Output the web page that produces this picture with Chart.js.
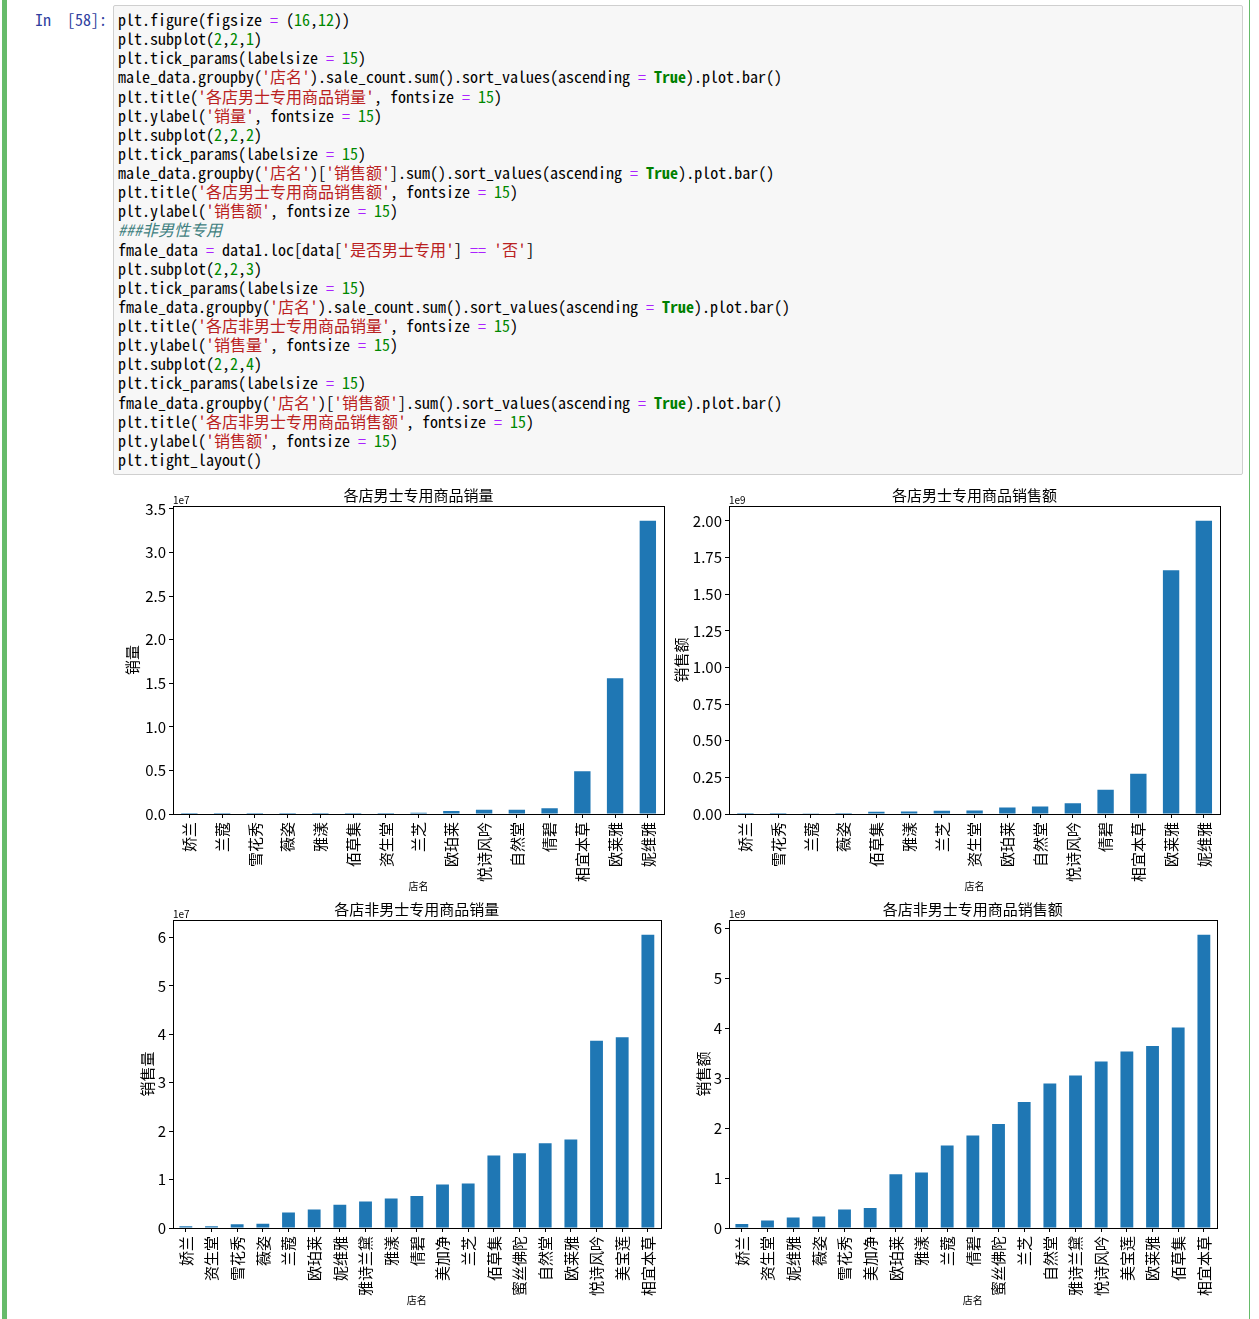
<!DOCTYPE html>
<html>
<head>
<meta charset="utf-8">
<script src="https://cdn.jsdelivr.net/npm/chart.js@4.4.1/dist/chart.umd.min.js"></script>
<style>
  body { margin: 0; background: #fff; width: 1259px; height: 1319px; position: relative; overflow: hidden; }
  .bar-left { position: absolute; left: 2px; top: 0; width: 5px; height: 1319px; background: #66bb6a; }
  .bar-right { position: absolute; left: 1249px; top: 0; width: 1px; height: 1319px; background: #66bb6a; }
  .prompt { position: absolute; left: 0; width: 107px; top: 6px; text-align: right; color: #303f9f;
    font: 16px "Noto Sans Mono CJK SC", "Liberation Mono", monospace; line-height: 19.13px; padding-top: 4px; white-space: pre; }
  .code { position: absolute; left: 113px; top: 5px; width: 1128px; height: 468px; background: #f7f7f7;
    border: 1px solid #cfcfcf; border-radius: 2px; }
  .code pre { margin: 0; padding: 4px 0 0 4px; font: 16px "Noto Sans Mono CJK SC", "Liberation Mono", monospace;
    line-height: 19.13px; color: #000; }
  .o { color: #aa22ff; }
  .n { color: #008800; }
  .s { color: #ba2121; }
  .k { color: #008000; font-weight: bold; }
  .c { color: #408080; font-style: italic; }
  canvas { position: absolute; }
</style>
</head>
<body>
<div class="bar-left"></div>
<div class="bar-right"></div>
<div class="prompt">In  [58]:</div>
<div class="code"><pre>plt.figure(figsize <span class="o">=</span> (<span class="n">16</span>,<span class="n">12</span>))
plt.subplot(<span class="n">2</span>,<span class="n">2</span>,<span class="n">1</span>)
plt.tick_params(labelsize <span class="o">=</span> <span class="n">15</span>)
male_data.groupby(<span class="s">'店名'</span>).sale_count.sum().sort_values(ascending <span class="o">=</span> <span class="k">True</span>).plot.bar()
plt.title(<span class="s">'各店男士专用商品销量'</span>, fontsize <span class="o">=</span> <span class="n">15</span>)
plt.ylabel(<span class="s">'销量'</span>, fontsize <span class="o">=</span> <span class="n">15</span>)
plt.subplot(<span class="n">2</span>,<span class="n">2</span>,<span class="n">2</span>)
plt.tick_params(labelsize <span class="o">=</span> <span class="n">15</span>)
male_data.groupby(<span class="s">'店名'</span>)[<span class="s">'销售额'</span>].sum().sort_values(ascending <span class="o">=</span> <span class="k">True</span>).plot.bar()
plt.title(<span class="s">'各店男士专用商品销售额'</span>, fontsize <span class="o">=</span> <span class="n">15</span>)
plt.ylabel(<span class="s">'销售额'</span>, fontsize <span class="o">=</span> <span class="n">15</span>)
<span class="c">###非男性专用</span>
fmale_data <span class="o">=</span> data1.loc[data[<span class="s">'是否男士专用'</span>] <span class="o">==</span> <span class="s">'否'</span>]
plt.subplot(<span class="n">2</span>,<span class="n">2</span>,<span class="n">3</span>)
plt.tick_params(labelsize <span class="o">=</span> <span class="n">15</span>)
fmale_data.groupby(<span class="s">'店名'</span>).sale_count.sum().sort_values(ascending <span class="o">=</span> <span class="k">True</span>).plot.bar()
plt.title(<span class="s">'各店非男士专用商品销量'</span>, fontsize <span class="o">=</span> <span class="n">15</span>)
plt.ylabel(<span class="s">'销售量'</span>, fontsize <span class="o">=</span> <span class="n">15</span>)
plt.subplot(<span class="n">2</span>,<span class="n">2</span>,<span class="n">4</span>)
plt.tick_params(labelsize <span class="o">=</span> <span class="n">15</span>)
fmale_data.groupby(<span class="s">'店名'</span>)[<span class="s">'销售额'</span>].sum().sort_values(ascending <span class="o">=</span> <span class="k">True</span>).plot.bar()
plt.title(<span class="s">'各店非男士专用商品销售额'</span>, fontsize <span class="o">=</span> <span class="n">15</span>)
plt.ylabel(<span class="s">'销售额'</span>, fontsize <span class="o">=</span> <span class="n">15</span>)
plt.tight_layout()</pre></div>

<canvas id="c1" width="557" height="410" style="left:113px;top:485px;width:557px;height:410px"></canvas>
<canvas id="c2" width="556" height="410" style="left:670px;top:485px;width:556px;height:410px"></canvas>
<canvas id="c3" width="557" height="410" style="left:113px;top:899px;width:557px;height:410px"></canvas>
<canvas id="c4" width="556" height="410" style="left:670px;top:899px;width:556px;height:410px"></canvas>

<script>
// male-only products: sales count per store (ascending)
const maleCountStores = ['娇兰', '兰蔻', '雪花秀', '薇姿', '雅漾', '佰草集', '资生堂', '兰芝',
  '欧珀莱', '悦诗风吟', '自然堂', '倩碧', '相宜本草', '欧莱雅', '妮维雅'];
const maleCount = [500, 1500, 2000, 8000, 110000, 120000, 120000, 130000,
  340000, 480000, 490000, 650000, 4900000, 15560000, 33650000];

// male-only products: sales amount per store
const maleSalesStores = ['娇兰', '雪花秀', '兰蔻', '薇姿', '佰草集', '雅漾', '兰芝', '资生堂',
  '欧珀莱', '自然堂', '悦诗风吟', '倩碧', '相宜本草', '欧莱雅', '妮维雅'];
const maleSales = [100000, 300000, 900000, 7000000, 16000000, 17000000, 23000000, 24000000,
  44000000, 51000000, 74000000, 165000000, 274000000, 1663000000, 2002000000];

// non male-only products: sales count
const fmaleCountStores = ['娇兰', '资生堂', '雪花秀', '薇姿', '兰蔻', '欧珀莱', '妮维雅', '雅诗兰黛',
  '雅漾', '倩碧', '美加净', '兰芝', '佰草集', '蜜丝佛陀', '自然堂', '欧莱雅', '悦诗风吟', '美宝莲', '相宜本草'];
const fmaleCount = [340000, 350000, 750000, 900000, 3200000, 3800000, 4800000, 5500000,
  6100000, 6600000, 9000000, 9200000, 15000000, 15450000, 17500000, 18300000, 38700000, 39400000, 60600000];

// non male-only products: sales amount
const fmaleSalesStores = ['娇兰', '资生堂', '妮维雅', '薇姿', '雪花秀', '美加净', '欧珀莱', '雅漾',
  '兰蔻', '倩碧', '蜜丝佛陀', '兰芝', '自然堂', '雅诗兰黛', '悦诗风吟', '美宝莲', '欧莱雅', '佰草集', '相宜本草'];
const fmaleSales = [80000000, 150000000, 210000000, 230000000, 370000000, 400000000, 1075000000, 1110000000,
  1650000000, 1850000000, 2080000000, 2520000000, 2890000000, 3050000000, 3330000000, 3530000000,
  3640000000, 4010000000, 5870000000];

// tick values (in units of the offset) and their labels
const ticks1 = [0, 0.5, 1.0, 1.5, 2.0, 2.5, 3.0, 3.5];
const tickLabels1 = ['0.0', '0.5', '1.0', '1.5', '2.0', '2.5', '3.0', '3.5'];
const ticks2 = [0, 0.25, 0.5, 0.75, 1.0, 1.25, 1.5, 1.75, 2.0];
const tickLabels2 = ['0.00', '0.25', '0.50', '0.75', '1.00', '1.25', '1.50', '1.75', '2.00'];
const ticks3 = [0, 1, 2, 3, 4, 5, 6];
const tickLabels3 = ['0', '1', '2', '3', '4', '5', '6'];

const BLUE = '#1f77b4';
const FONT = '"Noto Sans CJK SC", "Noto Sans", sans-serif';
Chart.defaults.font.family = FONT;
Chart.defaults.color = '#000';

// matplotlib-ish decorations: axes box, title centred over the axes, "1e7" offset text
const frame = {
  id: 'frame',
  afterDraw(chart, args, opts) {
    const { ctx, chartArea: a } = chart;
    ctx.save();
    ctx.strokeStyle = '#000';
    ctx.lineWidth = 1;
    ctx.strokeRect(Math.round(a.left) + 0.5, Math.round(a.top) + 0.5,
      Math.round(a.right - a.left), Math.round(a.bottom - a.top));
    ctx.fillStyle = '#000';
    ctx.font = '15px ' + FONT;
    ctx.textAlign = 'center';
    ctx.textBaseline = 'middle';
    ctx.fillText(opts.title, (a.left + a.right) / 2, a.top - 11);
    ctx.font = '10px ' + FONT;
    ctx.textAlign = 'left';
    ctx.textBaseline = 'bottom';
    ctx.fillText(opts.exponent, a.left, a.top - 1);
    ctx.restore();
  }
};

function drawBars(id, stores, values, ticks, tickLabels, factor, exponent, title, ylabel, ylabelPad, yWidth) {
  const ctx = document.getElementById(id).getContext('2d');
  return new Chart(ctx, {
    type: 'bar',
    data: {
      labels: stores,
      datasets: [{
        data: values,
        backgroundColor: BLUE,
        categoryPercentage: 1.0,
        barPercentage: 0.5
      }]
    },
    plugins: [frame],
    options: {
      responsive: false,
      animation: false,
      layout: { padding: { left: 0, right: 5, top: 21, bottom: 0 } },
      plugins: {
        legend: { display: false },
        tooltip: { enabled: false },
        title: { display: false },
        frame: { exponent: exponent, title: title }
      },
      scales: {
        x: {
          offset: true,
          grid: { display: true, drawOnChartArea: false, drawTicks: true, tickLength: 4, color: '#000', offset: false },
          border: { display: false },
          ticks: { autoSkip: false, minRotation: 90, maxRotation: 90, padding: 4, color: '#000', font: { size: 15 } },
          title: { display: true, text: '店名', color: '#000', font: { size: 10 }, padding: { top: 0, bottom: 3 } },
          afterFit(scale) { scale.height = 81; }
        },
        y: {
          min: 0,
          max: Math.max(...values) * 1.05,
          grid: { display: true, drawOnChartArea: false, drawTicks: true, tickLength: 4, color: '#000' },
          border: { display: false },
          afterBuildTicks(scale) { scale.ticks = ticks.map(v => ({ value: v * factor })); },
          ticks: { padding: 3, color: '#000', font: { size: 15 }, callback: (v, i) => tickLabels[i] },
          title: { display: true, text: ylabel, color: '#000', font: { size: 15 }, padding: { top: ylabelPad, bottom: 0 } },
          afterFit(scale) { scale.width = yWidth; }
        }
      }
    }
  });
}

drawBars('c1', maleCountStores, maleCount, ticks1, tickLabels1, 1e7, '1e7', '各店男士专用商品销量', '销量', 10, 60);
drawBars('c2', maleSalesStores, maleSales, ticks2, tickLabels2, 1e9, '1e9', '各店男士专用商品销售额', '销售额', 2, 59);
drawBars('c3', fmaleCountStores, fmaleCount, ticks3, tickLabels3, 1e7, '1e7', '各店非男士专用商品销量', '销售量', 25, 60);
drawBars('c4', fmaleSalesStores, fmaleSales, ticks3, tickLabels3, 1e9, '1e9', '各店非男士专用商品销售额', '销售额', 24, 59);
</script>
</body>
</html>
